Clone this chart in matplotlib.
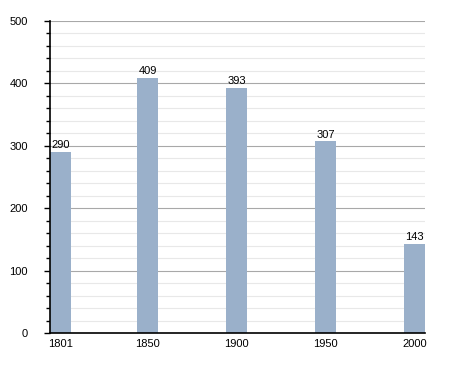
import matplotlib
matplotlib.use("Agg")
import matplotlib.pyplot as plt
from matplotlib.ticker import MultipleLocator

plt.rcParams['font.family'] = ['Liberation Sans', 'DejaVu Sans']

years = [1801, 1850, 1900, 1950, 2000]
population = [290, 409, 393, 307, 143]
bar_width = 12  # in years

fig = plt.figure(figsize=(4.55, 3.73), dpi=100)
ax = fig.add_axes([50/455, 1-333/373, 375/455, 312/373])

ax.bar(years, population, width=bar_width, align='edge', color='#9ab0ca', zorder=3)
for x, v in zip(years, population):
    ax.text(x + bar_width/2, v + 3, str(v), ha='center', va='bottom', fontsize=8, zorder=4)

ax.set_xlim(years[0], years[-1] + bar_width)
ax.set_ylim(0, 500)
ax.set_xticks([y + bar_width/2 for y in years])
ax.set_xticklabels([str(y) for y in years])
ax.tick_params(axis='x', length=0, labelsize=8, pad=4)
ax.yaxis.set_major_locator(MultipleLocator(100))
ax.yaxis.set_minor_locator(MultipleLocator(20))
ax.tick_params(axis='y', which='major', length=4, width=1, labelsize=8, pad=12)
ax.tick_params(axis='y', which='minor', length=3, width=1)
ax.grid(axis='y', which='major', color='#a8a8a8', linewidth=0.8, zorder=1)
ax.grid(axis='y', which='minor', color='#e8e8e8', linewidth=0.8, zorder=0)
for s in ['top', 'right']:
    ax.spines[s].set_visible(False)
ax.spines['left'].set_linewidth(1.2)
ax.spines['bottom'].set_linewidth(1.2)
ax.spines['left'].set_zorder(5)
ax.spines['bottom'].set_zorder(5)

fig.savefig('out.png', dpi=100)
